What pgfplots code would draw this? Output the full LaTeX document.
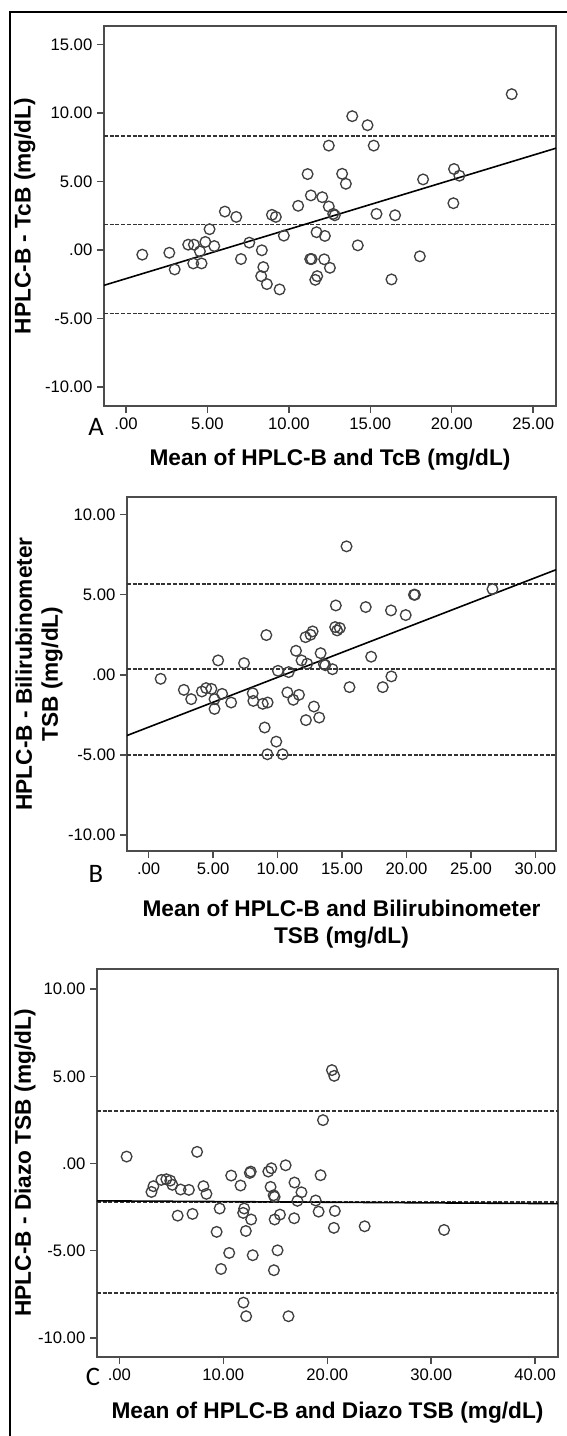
\documentclass[border=0pt]{standalone}
\usepackage{fontspec}
\setmainfont{Liberation Sans}
\newfontfamily\letterfont{Carlito}
\usepackage{pgfplots}
\pgfplotsset{compat=1.18}

\pgfplotsset{
  baplot/.style={
    scale only axis,
    anchor=south west,
    clip mode=individual,
    axis line style={black!70, line width=1.1pt},
    xtick pos=bottom, ytick pos=left,
    tick align=outside,
    major tick length=5.25pt,
    tick style={black!70, line width=1.1pt},
    tick label style={font=\fontsize{12.5}{14}\selectfont},
    label style={font=\fontsize{17}{19}\selectfont\bfseries},
  },
  pts/.style={only marks, mark=o, mark size=4pt,
    mark options={black!75, line width=1pt}},
  loa/.style={black!80, line width=1.2pt, dash pattern=on 3pt off 1.3pt},
  fit/.style={black, line width=1.2pt},
}

\begin{document}
\begin{tikzpicture}
\begin{scope}[x=0.75pt,y=-0.75pt]
  \path[use as bounding box] (0,0) rectangle (567,1436);
  \coordinate (oA) at (104,406);
  \coordinate (oB) at (127,851);
  \coordinate (oC) at (97,1357);
  \draw[black, line width=1.5pt] (10,1450) -- (10,12) -- (580,12);
\end{scope}

% Panel A
\begin{axis}[baplot, at={(oA)},
    width=339pt, height=285pt,
    xmin=-1.35, xmax=26.4, ymin=-11.4, ymax=16.37,
    xtick={0,5,10,15,20,25}, xticklabels={.00,5.00,10.00,15.00,20.00,25.00},
    ytick={-10,-5,0,5,10,15}, yticklabels={-10.00,-5.00,.00,5.00,10.00,15.00},
    xlabel={Mean of HPLC-B and TcB (mg/dL)},
    ylabel={HPLC-B - TcB (mg/dL)},
    xlabel style={at={(axis description cs:0.5,-0.142)}, anchor=center},
    ylabel style={at={(axis description cs:-0.175,0.5)}, anchor=center},
  ]
  \addplot[loa] coordinates {(-1.35,8.33) (26.4,8.33)};
  \addplot[loa] coordinates {(-1.35,1.86) (26.4,1.86)};
  \addplot[loa] coordinates {(-1.35,-4.63) (26.4,-4.63)};
  \addplot[fit] coordinates {(-1.35,-2.58) (26.4,7.44)};
  \addplot[pts] coordinates {
    (1.0,-0.34) (2.66,-0.20) (2.99,-1.42) (3.82,0.39) (4.17,0.39) (4.13,-0.98)
    (4.54,-0.10) (4.64,-0.98) (4.87,0.59) (5.13,1.52) (5.42,0.29) (6.07,2.81)
    (6.77,2.42) (7.06,-0.66) (7.57,0.54) (8.34,-0.02) (8.43,-1.25) (8.30,-1.91)
    (8.65,-2.49) (8.96,2.57) (9.20,2.42) (9.43,-2.88) (9.69,1.05) (10.57,3.23)
    (11.15,5.55) (11.35,3.99) (11.31,-0.66) (11.40,-0.66) (11.70,1.30) (11.74,-1.91)
    (11.62,-2.18) (12.05,3.86) (12.21,1.03) (12.17,-0.68) (12.45,7.63) (12.45,3.18)
    (12.52,-1.30) (12.72,2.64) (12.82,2.54) (13.27,5.57) (13.50,4.84) (13.89,9.78)
    (14.23,0.34) (14.83,9.12) (15.21,7.63) (15.38,2.64) (16.30,-2.15) (16.52,2.54)
    (18.04,-0.46) (18.24,5.16) (20.10,3.42) (20.14,5.92) (20.47,5.43) (23.68,11.39)
  };
\end{axis}

% Panel B
\begin{axis}[baplot, at={(oB)},
    width=321.75pt, height=265.5pt,
    xmin=-1.68, xmax=31.6, ymin=-11.0, ymax=11.1,
    xtick={0,5,10,15,20,25,30}, xticklabels={.00,5.00,10.00,15.00,20.00,25.00,30.00},
    ytick={-10,-5,0,5,10}, yticklabels={-10.00,-5.00,.00,5.00,10.00},
    xlabel={Mean of HPLC-B and Bilirubinometer\\[1pt]TSB (mg/dL)},
    ylabel={HPLC-B - Bilirubinometer\\[0.5pt]TSB (mg/dL)},
    xlabel style={at={(axis description cs:0.5,-0.206)}, anchor=center, align=center},
    ylabel style={at={(axis description cs:-0.205,0.5)}, anchor=center, align=center},
  ]
  \addplot[loa] coordinates {(-1.68,5.68) (31.6,5.68)};
  \addplot[loa] coordinates {(-1.68,0.35) (31.6,0.35)};
  \addplot[loa] coordinates {(-1.68,-4.99) (31.6,-4.99)};
  \addplot[fit] coordinates {(-1.68,-3.79) (31.6,6.56)};
  \addplot[pts] coordinates {
    (0.93,-0.25) (2.73,-0.94) (3.30,-1.52) (4.13,-1.04) (4.46,-0.83) (4.87,-0.88)
    (5.11,-1.52) (5.11,-2.13) (5.39,0.90) (5.70,-1.19) (6.40,-1.73) (7.40,0.73)
    (8.07,-1.15) (8.12,-1.63) (8.85,-1.81) (9.23,-1.73) (9.13,2.48) (9.00,-3.29)
    (9.21,-4.96) (9.90,-4.17) (10.39,-4.96) (10.03,0.25) (10.86,0.17) (10.76,-1.10)
    (11.22,-1.56) (11.66,-1.25) (11.43,1.50) (11.86,0.90) (12.17,2.35) (12.20,-2.83)
    (12.30,0.69) (12.56,2.50) (12.72,2.71) (12.82,-1.98) (13.23,-2.67) (13.34,1.35)
    (13.59,0.67) (13.70,0.60) (14.26,0.35) (14.52,4.33) (14.47,2.98) (14.62,2.77)
    (14.83,2.92) (15.35,8.02) (15.58,-0.77) (16.84,4.23) (17.26,1.13) (18.16,-0.77)
    (18.80,4.02) (18.83,-0.10) (19.94,3.73) (20.58,5.00) (20.66,5.00) (26.67,5.35)
  };
\end{axis}

% Panel C
\begin{axis}[baplot, at={(oC)},
    width=345.75pt, height=291pt,
    xmin=-2.15, xmax=42.2, ymin=-11.1, ymax=11.16,
    xtick={0,10,20,30,40}, xticklabels={.00,10.00,20.00,30.00,40.00},
    ytick={-10,-5,0,5,10}, yticklabels={-10.00,-5.00,.00,5.00,10.00},
    xlabel={Mean of HPLC-B and Diazo TSB (mg/dL)},
    ylabel={HPLC-B - Diazo TSB (mg/dL)},
    xlabel style={at={(axis description cs:0.5,-0.144)}, anchor=center},
    ylabel style={at={(axis description cs:-0.156,0.5)}, anchor=center},
  ]
  \addplot[loa] coordinates {(-2.15,3.00) (42.2,3.00)};
  \addplot[loa] coordinates {(-2.15,-2.20) (42.2,-2.20)};
  \addplot[loa] coordinates {(-2.15,-7.42) (42.2,-7.42)};
  \addplot[fit] coordinates {(-2.15,-2.14) (42.2,-2.30)};
  \addplot[pts] coordinates {
    (0.70,0.40) (3.09,-1.63) (3.28,-1.30) (4.04,-0.94) (4.52,-0.90) (4.90,-0.98)
    (5.10,-1.22) (5.89,-1.49) (6.69,-1.51) (5.61,-2.99) (7.04,-2.89) (7.48,0.67)
    (8.09,-1.30) (8.38,-1.74) (9.65,-2.58) (9.36,-3.92) (9.78,-6.05) (10.57,-5.13)
    (10.76,-0.69) (11.66,-1.26) (12.01,-2.58) (11.91,-2.83) (12.17,-3.87) (11.94,-7.98)
    (12.20,-8.76) (12.55,-0.54) (12.64,-0.46) (12.68,-3.21) (12.83,-5.26) (14.33,-0.46)
    (14.62,-0.27) (14.55,-1.34) (14.84,-1.82) (14.94,-1.91) (14.94,-3.21) (15.45,-2.93)
    (15.22,-4.98) (14.87,-6.12) (16.00,-0.10) (16.27,-8.76) (16.85,-1.09) (16.82,-3.14)
    (17.13,-2.14) (17.52,-1.65) (18.89,-2.12) (19.17,-2.76) (19.36,-0.67) (19.59,2.49)
    (20.45,5.36) (20.67,5.03) (20.64,-3.69) (20.73,-2.72) (23.60,-3.60) (31.24,-3.81)
  };
\end{axis}

\begin{scope}[x=0.75pt,y=-0.75pt]
  \node[font=\letterfont\fontsize{20}{22}\selectfont] at (96,427) {A};
  \node[font=\letterfont\fontsize{20}{22}\selectfont] at (96,874) {B};
  \node[font=\letterfont\fontsize{20}{22}\selectfont] at (93,1377) {C};
\end{scope}
\end{tikzpicture}
\end{document}
